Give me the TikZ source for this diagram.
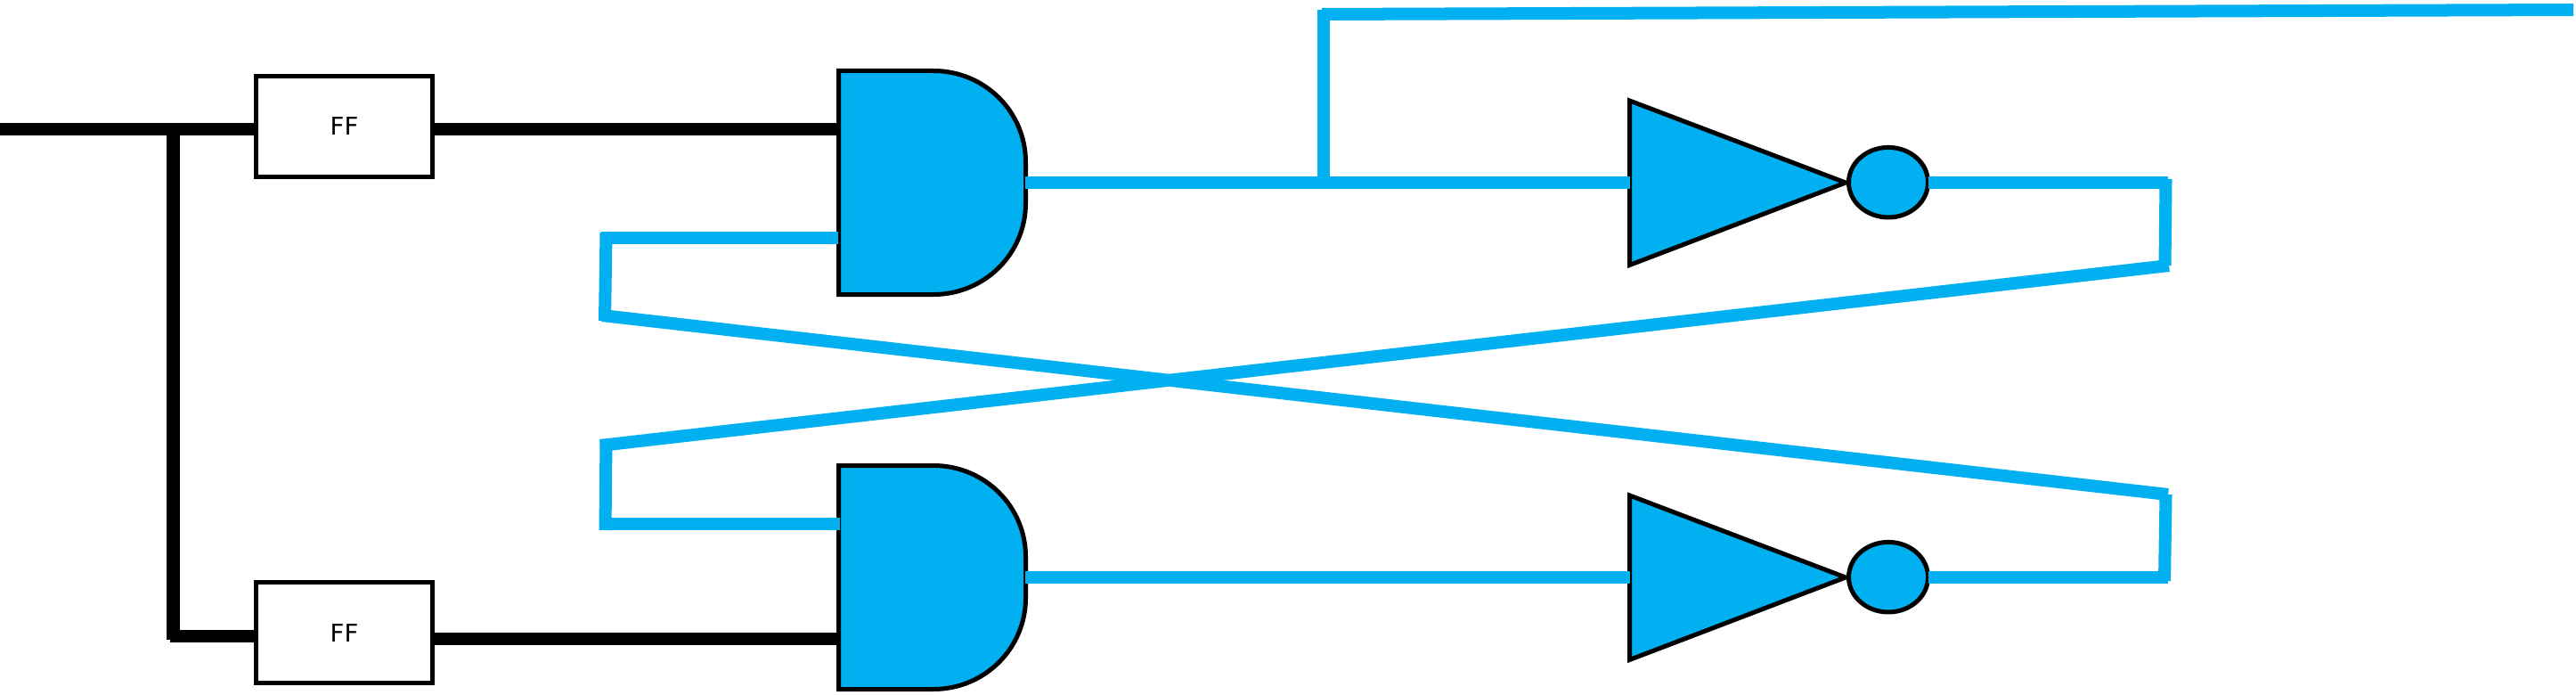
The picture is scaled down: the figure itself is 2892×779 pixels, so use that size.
\documentclass[tikz,border=0pt]{standalone}
\usepackage{fontspec}
\setmainfont{DejaVu Sans}
\usetikzlibrary{shapes.geometric}
\definecolor{wireblue}{HTML}{00B0F0}
\tikzset{
  x=0.01cm,y=-0.01cm,
  bluewire/.style={draw=wireblue,line width=0.14cm,line cap=butt,line join=miter},
  blackwire/.style={draw=black,line width=0.14cm,line cap=butt,line join=miter},
  gateoutline/.style={draw=black,fill=wireblue,line width=0.05cm,line join=miter},
  ffbox/.style={draw=black,fill=white,line width=0.05cm,rectangle,minimum width=1.98cm,minimum height=1.13cm,inner sep=0pt,outer sep=0pt,font=\fontsize{7.8pt}{9pt}\selectfont},
  bubble/.style={gateoutline,ellipse,minimum width=0.89cm,minimum height=0.785cm,inner sep=0pt,outer sep=0pt},
  andgate/.pic={
    \path[gateoutline] (941.5,79.5) -- (1048,79.5)
      .. controls (1105,79.5) and (1151.5,125) .. (1151.5,182)
      -- (1151.5,228)
      .. controls (1151.5,285) and (1105,330.5) .. (1048,330.5)
      -- (941.5,330.5) -- cycle;
  },
  invgate/.pic={
    \path[gateoutline] (1829.5,113) -- (2072,205) -- (1829.5,297.5) -- cycle;
  }
}
\begin{document}
\begin{tikzpicture}
\useasboundingbox (0,0) rectangle (2892,779);

% gates
\pic at (0,0) {andgate};
\pic at (0,443) {andgate};
\pic at (0,0) {invgate};
\pic at (0,443) {invgate};
\node[bubble] (b1) at (2120,204.7) {};
\node[bubble] (b2) at (2120,647.7) {};
\node[ffbox] (ff1) at (386.5,142) {FF};
\node[ffbox] (ff2) at (386.5,710) {FF};

% connection points: black
\coordinate (in) at (0,145);
\coordinate (tap) at (194.5,150);
\coordinate (tapb) at (194.5,718);
\coordinate (cornb) at (191,714);
\coordinate (ff1i) at (287,145);
\coordinate (ff1o) at (486,145);
\coordinate (ff2i) at (287,714);
\coordinate (ff2o) at (486,717);
\coordinate (a1i) at (941,145);
\coordinate (a2i) at (941,717);
% connection points: blue
\coordinate (a1f) at (941,267);
\coordinate (a2f) at (943,588);
\coordinate (a1o) at (1151,205);
\coordinate (a2o) at (1151,648);
\coordinate (t1i) at (1830,205);
\coordinate (t2i) at (1830,648);
\coordinate (b1o) at (2165,205);
\coordinate (b2o) at (2165,648);
\coordinate (branch) at (1486,205);
\coordinate (ftop) at (1486,11);
\coordinate (ftopb) at (1484,16);
\coordinate (fend) at (2889,11);
\coordinate (r1h) at (2434,205);
\coordinate (r1vt) at (2431.5,201);
\coordinate (r1vb) at (2430.5,298);
\coordinate (r1d) at (2435,298);
\coordinate (r2h) at (2434,648);
\coordinate (r2vb) at (2430,652);
\coordinate (r2vt) at (2431.5,555);
\coordinate (r2d) at (2434,555);
\coordinate (l1h) at (675,267);
\coordinate (l1vt) at (680.5,261);
\coordinate (l1vb) at (679,360);
\coordinate (l1d) at (676,354);
\coordinate (l2h) at (676,588);
\coordinate (l2vb) at (679.5,595);
\coordinate (l2vt) at (680.5,493);
\coordinate (l2d) at (674,500);

% black wires
\draw[blackwire] (in) -- (ff1i);
\draw[blackwire] (ff1o) -- (a1i);
\draw[blackwire] (tap) -- (tapb);
\draw[blackwire] (cornb) -- (ff2i);
\draw[blackwire] (ff2o) -- (a2i);

% blue wires
\draw[bluewire] (a1o) -- (t1i);
\draw[bluewire] (a2o) -- (t2i);
\draw[bluewire] (branch) -- (ftop);
\draw[bluewire] (ftopb) -- (fend);
\draw[bluewire] (b1o) -- (r1h);
\draw[bluewire] (r1vt) -- (r1vb);
\draw[bluewire] (r1d) -- (l2d);
\draw[bluewire] (l2vt) -- (l2vb);
\draw[bluewire] (l2h) -- (a2f);
\draw[bluewire] (b2o) -- (r2h);
\draw[bluewire] (r2vb) -- (r2vt);
\draw[bluewire] (r2d) -- (l1d);
\draw[bluewire] (l1vb) -- (l1vt);
\draw[bluewire] (l1h) -- (a1f);
\end{tikzpicture}
\end{document}
